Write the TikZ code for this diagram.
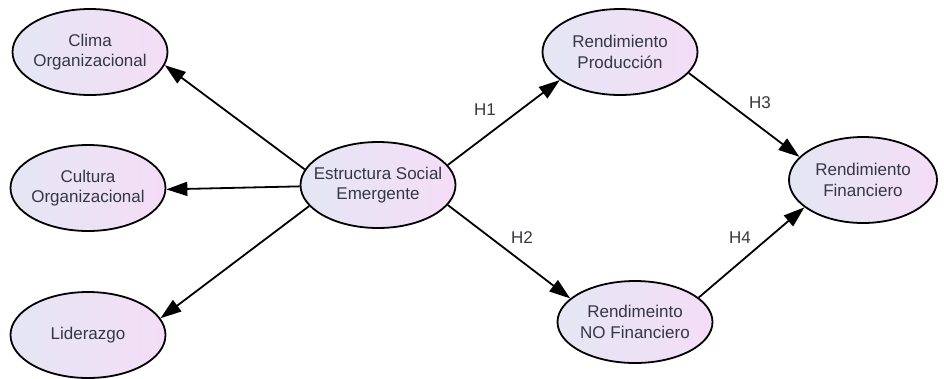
\documentclass[tikz,border=0pt]{standalone}
\usepackage{fontspec}
\setmainfont{Liberation Sans}
\usetikzlibrary{shapes.geometric,arrows.meta}
\definecolor{txt}{HTML}{363645}
\definecolor{lcol}{HTML}{E4E6F4}
\definecolor{rcol}{HTML}{F4DDF6}
\tikzset{
  lat/.style={ellipse, draw=black, line width=1.8pt, left color=lcol, right color=rcol,
    minimum width=155pt, minimum height=86pt, inner xsep=-30pt, inner ysep=-10pt, align=center,
    text=txt, font=\fontsize{17}{20.5}\selectfont},
  conn/.style={line width=1.8pt, -{Triangle[length=21pt,width=14pt]}},
  hlab/.style={text=txt, font=\fontsize{17}{20}\selectfont}
}
\begin{document}
\begin{tikzpicture}[x=1pt,y=-1pt]
\useasboundingbox (0,0) rectangle (944,378);
\node[lat] (clima) at (90,52) {Clima\\Organizacional};
\node[lat] (cult) at (88,188) {Cultura\\Organizacional};
\node[lat] (lid) at (88,335) {Liderazgo};
\node[lat] (es) at (378,185) {Estructura Social\\Emergente};
\node[lat] (rp) at (620,52) {Rendimiento\\Producción};
\node[lat, minimum height=82pt] (rnf) at (635,322) {Rendimeinto\\NO Financiero};
\node[lat, minimum width=148pt] (rf) at (863,180) {Rendimiento\\Financiero};
\draw[conn] (es.168) -- (clima.-10);
\draw[conn] (es.181) -- (cult.-1);
\draw[conn] (es.197) -- (lid.13);
\draw[conn] (es.16) -- (rp.205);
\draw[conn] (es.-16) -- (rnf.160);
\draw[conn] (rp.-17) -- (rf.160);
\draw[conn] (rnf.21) -- (rf.205);
\node[hlab] (h1) at (485,110) {H1};
\node[hlab] (h2) at (522,238) {H2};
\node[hlab] (h3) at (760,103) {H3};
\node[hlab] (h4) at (740,238) {H4};
\end{tikzpicture}
\end{document}
